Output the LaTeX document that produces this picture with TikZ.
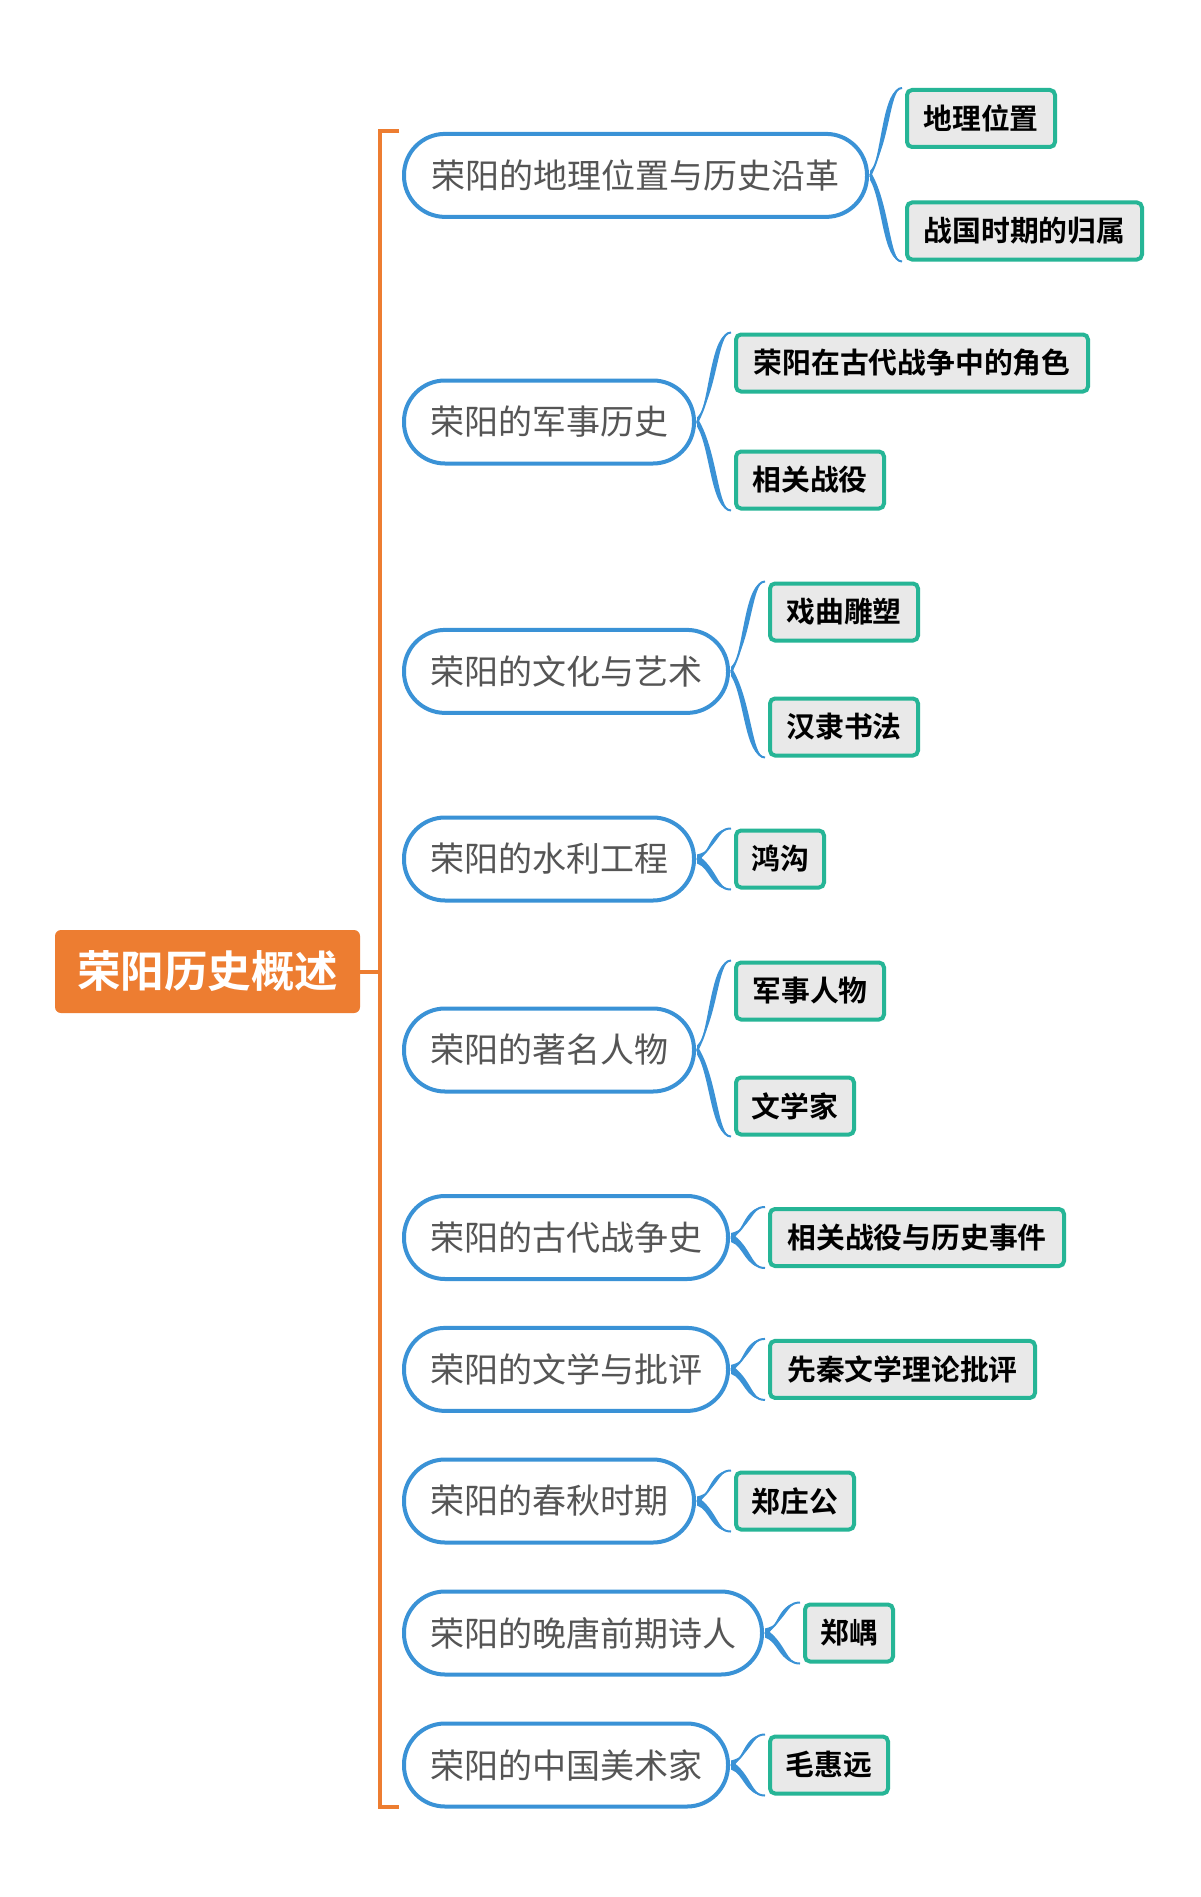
\documentclass[tikz,border=0pt]{standalone}
\usepackage{fontspec}
\newfontfamily\cjk{Noto Sans CJK SC}[BoldFont={Noto Sans CJK SC Bold}]
\usetikzlibrary{calc}
\definecolor{bl}{RGB}{58,146,214}
\definecolor{orn}{RGB}{237,125,49}
\definecolor{tl}{RGB}{38,181,150}
\definecolor{lg}{RGB}{233,233,233}
\definecolor{tg}{RGB}{85,85,85}
\newcommand\brarm[2]{%
  \fill[bl] let \p1=(#1), \p2=(#2), \n1={0.5*\x1+0.5*\x2}, \n2={\y1+0.3*(\y2-\y1)} in
    (\x1,{\y1-4.5pt}) .. controls ({\n1*1pt-3.5pt},{\n2*1pt}) and ({\n1*1pt-3.5pt},\y2) .. (\p2)
    .. controls ({\n1*1pt+3.5pt},\y2) and ({\n1*1pt+3.5pt},{\n2*1pt}) .. (\x1,{\y1+4.5pt}) -- cycle;
  \draw[bl,line width=2pt] let \p1=(#1), \p2=(#2), \n1={0.5*\x1+0.5*\x2}, \n2={\y1+0.3*(\y2-\y1)} in
    (\p1) .. controls ({\n1*1pt},{\n2*1pt}) and ({\n1*1pt},\y2) .. (\p2);}
\begin{document}
\begin{tikzpicture}[x=1pt,y=-1pt,
  rootbox/.style={fill=orn, rounded corners=6pt, minimum width=305pt, minimum height=83pt, inner sep=0pt,
    text=white, font=\cjk\bfseries\fontsize{43.5}{46}\selectfont},
  brbox/.style={draw=bl, line width=4pt, fill=white, rounded corners=41pt, minimum height=83pt, inner sep=0pt,
    anchor=west, text=tg, font=\cjk\fontsize{34}{37}\selectfont},
  leafbox/.style={draw=tl, line width=4pt, fill=lg, rounded corners=5pt, minimum height=57pt, inner sep=0pt,
    anchor=west, text=black, font=\cjk\bfseries\fontsize{28.8}{31}\selectfont},
  orline/.style={draw=orn, line width=4pt}]
\useasboundingbox (0,0) rectangle (1200,1897);
\fill[white] (0,0) rectangle (1200,1897);

% root
\node[rootbox] (root) at (207.5,971.5) {荣阳历史概述};

% branches
\node[brbox, minimum width=463pt] (b1) at (402,175.4) {荣阳的地理位置与历史沿革};
\node[brbox, minimum width=290pt] (b2) at (402,422) {荣阳的军事历史};
\node[brbox, minimum width=324pt] (b3) at (402,671.4) {荣阳的文化与艺术};
\node[brbox, minimum width=290pt] (b4) at (402,859) {荣阳的水利工程};
\node[brbox, minimum width=290pt] (b5) at (402,1050) {荣阳的著名人物};
\node[brbox, minimum width=324pt] (b6) at (402,1237.5) {荣阳的古代战争史};
\node[brbox, minimum width=324pt] (b7) at (402,1369.4) {荣阳的文学与批评};
\node[brbox, minimum width=290pt] (b8) at (402,1501) {荣阳的春秋时期};
\node[brbox, minimum width=358pt] (b9) at (402,1633) {荣阳的晚唐前期诗人};
\node[brbox, minimum width=324pt] (b10) at (402,1765) {荣阳的中国美术家};

% leaves
\node[leafbox, minimum width=148pt] (l1a) at (905,118.5) {地理位置};
\node[leafbox, minimum width=235pt] (l1b) at (905,231) {战国时期的归属};
\node[leafbox, minimum width=352pt] (l2a) at (734,363) {荣阳在古代战争中的角色};
\node[leafbox, minimum width=148pt] (l2b) at (734,480) {相关战役};
\node[leafbox, minimum width=148pt] (l3a) at (768,612) {戏曲雕塑};
\node[leafbox, minimum width=148pt] (l3b) at (768,727) {汉隶书法};
\node[leafbox, minimum width=88pt] (l4) at (734,859) {鸿沟};
\node[leafbox, minimum width=148pt] (l5a) at (734,991) {军事人物};
\node[leafbox, minimum width=118pt] (l5b) at (734,1106) {文学家};
\node[leafbox, minimum width=294pt] (l6) at (768,1237.5) {相关战役与历史事件};
\node[leafbox, minimum width=265pt] (l7) at (768,1369.4) {先秦文学理论批评};
\node[leafbox, minimum width=118pt] (l8) at (734,1501) {郑庄公};
\node[leafbox, minimum width=88pt] (l9) at (803,1633) {郑嵎};
\node[leafbox, minimum width=118pt] (l10) at (768,1765) {毛惠远};

% orange bracket
\coordinate (ktop) at (399,131);
\coordinate (kbot) at (399,1807);
\coordinate (kx) at (380,971.5);
\draw[orline] (ktop) -- (ktop -| kx) -- (kbot -| kx) -- (kbot);
\draw[orline] (root.east) -- (kx);

% blue braces
\foreach \b/\ta/\tb in {b1/l1a/l1b, b2/l2a/l2b, b3/l3a/l3b, b4/l4/l4, b5/l5a/l5b,
    b6/l6/l6, b7/l7/l7, b8/l8/l8, b9/l9/l9, b10/l10/l10}{
  \coordinate (tipA) at ($(\ta.north west)+(-3,0)$);
  \coordinate (tipB) at ($(\tb.south west)+(-3,0)$);
  \coordinate (cpt) at ($(\b.east)+(1,0)$);
  \brarm{cpt}{tipA}
  \brarm{cpt}{tipB}
}
\end{tikzpicture}
\end{document}
